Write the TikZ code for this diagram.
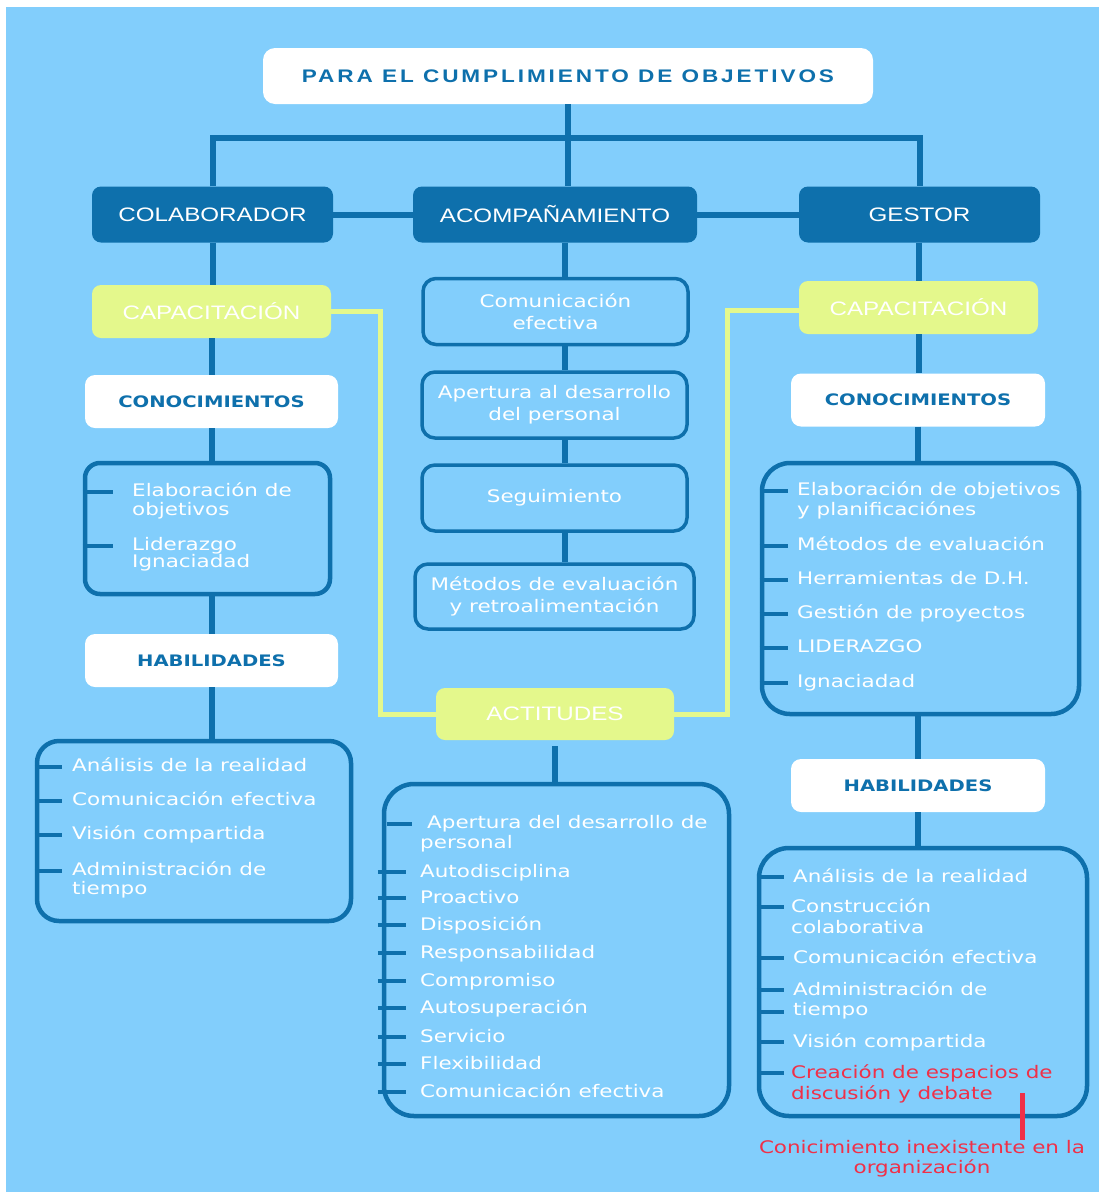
\documentclass[tikz,border=0pt]{standalone}
\usepackage{fontspec}
\usetikzlibrary{calc}
\newfontfamily\itemfont[FakeStretch=1.24]{DejaVu Sans}
\newfontfamily\boxfont[FakeStretch=1.24]{Liberation Sans}
\newfontfamily\titlefont[FakeStretch=1.24,LetterSpace=16]{Liberation Sans}
\newcommand{\twolines}[3][0pt]{\vtop{\hbox{#2}\vskip#1\hbox{#3}}}
\definecolor{skyblue}{RGB}{130,206,252}
\definecolor{darkblue}{RGB}{14,112,172}
\definecolor{limegreen}{RGB}{228,248,140}
\definecolor{alertred}{RGB}{240,48,72}
\tikzset{
  rolebox/.style={rectangle, rounded corners=9pt, fill=darkblue, text=white, minimum height=56pt, font=\boxfont\fontsize{19.5}{22}\selectfont},
  greenbox/.style={rectangle, rounded corners=9pt, fill=limegreen, text=white, minimum width=239pt, minimum height=53pt, font=\boxfont\fontsize{19.5}{22}\selectfont},
  headbox/.style={rectangle, rounded corners=10pt, fill=white, text=darkblue, minimum width=253pt, minimum height=53pt, font=\itemfont\bfseries\fontsize{15.8}{18}\selectfont},
  midbox/.style={rectangle, rounded corners=13pt, draw=darkblue, line width=3.5pt, text=white, align=center, minimum width=265pt, minimum height=66pt, font=\itemfont\fontsize{17.3}{22}\selectfont},
  listbox/.style={rectangle, draw=darkblue, line width=4.5pt},
  item/.style={anchor=base west, inner sep=0pt, text=white, font=\itemfont\fontsize{17.3}{21}\selectfont},
  link/.style={draw=darkblue, line width=6pt},
  glink/.style={draw=limegreen, line width=5pt},
  tick/.style={draw=darkblue, line width=4pt},
  redline/.style={draw=alertred, line width=5pt}
}
\begin{document}
\begin{tikzpicture}[x=1pt,y=-1pt]
\useasboundingbox (0,0) rectangle (1099,1192);
\fill[white] (0,0) rectangle (1099,1192);
\fill[skyblue] (6,7) rectangle (1099,1192);

\node[headbox, rounded corners=12pt, minimum width=610pt, minimum height=56pt, font=\titlefont\bfseries\fontsize{18.2}{22}\selectfont] (title) at (568,76) {PARA EL CUMPLIMIENTO DE OBJETIVOS};

\node[rolebox, minimum width=241pt] (colab) at (212.5,214.5) {COLABORADOR};
\node[rolebox, minimum width=284pt] (acomp) at (555,214.5) {ACOMPAÑAMIENTO};
\node[rolebox, minimum width=241pt] (gestor) at (919.5,214.5) {GESTOR};

\node[greenbox] (cap-left) at (211.5,311.5) {CAPACITACIÓN};
\node[greenbox] (cap-right) at (918.5,307.5) {CAPACITACIÓN};
\node[greenbox, minimum width=238pt, minimum height=52pt] (actit) at (555,714) {ACTITUDES};

\node[headbox] (con-left) at (211.5,401.5) {CONOCIMIENTOS};
\node[headbox, minimum width=254pt] (con-right) at (918,400) {CONOCIMIENTOS};
\node[headbox] (hab-left) at (211.5,660.5) {HABILIDADES};
\node[headbox, minimum width=254pt] (hab-right) at (918,785.5) {HABILIDADES};

\node[midbox] (acomp1) at (555.5,311.5) {Comunicación\\efectiva};
\node[midbox] (acomp2) at (554.5,405) {Apertura al desarrollo\\del personal};
\node[midbox] (acomp3) at (554.5,498) {Seguimiento};
\node[midbox, minimum width=279pt, minimum height=65pt] (acomp4) at (554.5,596.5) {Métodos de evaluación\\y retroalimentación};

\node[listbox, rounded corners=15pt, minimum width=245pt, minimum height=131pt] (know-left) at (207.5,528.5) {};
\node[listbox, rounded corners=22pt, minimum width=314pt, minimum height=180pt] (skill-left) at (194,831) {};
\node[listbox, rounded corners=28pt, minimum width=317pt, minimum height=251pt] (know-right) at (920.5,588.5) {};
\node[listbox, rounded corners=30pt, minimum width=328pt, minimum height=268pt] (skill-right) at (923,982) {};
\node[listbox, rounded corners=30pt, minimum width=345pt, minimum height=332pt] (attit) at (556.5,950) {};

\node[item] (kl1) at (132,496) {\twolines[-2pt]{Elaboración de}{objetivos}};
\node[item] (kl2) at (132,550) {\twolines[-4pt]{Liderazgo}{Ignaciadad}};

\node[item] (sl1) at (72,771) {Análisis de la realidad};
\node[item] (sl2) at (72,805) {Comunicación efectiva};
\node[item] (sl3) at (72,839) {Visión compartida};
\node[item] (sl4) at (72,875) {\twolines[-2pt]{Administración de}{tiempo}};

\node[item] (kr1) at (797,495) {\twolines[-1pt]{Elaboración de objetivos}{y planificaciónes}};
\node[item] (kr2) at (797,550) {Métodos de evaluación};
\node[item] (kr3) at (797,584) {Herramientas de D.H.};
\node[item] (kr4) at (797,618) {Gestión de proyectos};
\node[item] (kr5) at (797,652) {LIDERAZGO};
\node[item] (kr6) at (797,687) {Ignaciadad};

\node[item] (at1) at (420,828) {\twolines[-1pt]{\hspace*{7pt}Apertura del desarrollo de}{personal}};
\node[item] (at2) at (420,877) {Autodisciplina};
\node[item] (at3) at (420,903) {Proactivo};
\node[item] (at4) at (420,930) {Disposición};
\node[item] (at5) at (420,958) {Responsabilidad};
\node[item] (at6) at (420,986) {Compromiso};
\node[item] (at7) at (420,1013) {Autosuperación};
\node[item] (at8) at (420,1042) {Servicio};
\node[item] (at9) at (420,1069) {Flexibilidad};
\node[item] (at10) at (420,1097) {Comunicación efectiva};

\node[item] (sr1) at (793,882) {Análisis de la realidad};
\node[item] (sr2) at (791,912) {\twolines{Construcción}{colaborativa}};
\node[item] (sr3) at (793,963) {Comunicación efectiva};
\node[item] (sr4) at (793,995) {\twolines[-1pt]{Administración de}{tiempo}};
\node[item] (sr5) at (793,1047) {Visión compartida};
\node[item, text=alertred] (sr6) at (791,1078) {\twolines{Creación de espacios de}{discusión y debate}};

\node[anchor=base, inner sep=0pt, align=center, text=alertred, font=\itemfont\fontsize{17.3}{20}\selectfont] (note) at (922,1173) {Conicimiento inexistente en la\\organización};

\coordinate (bar) at (570,138);
\coordinate (spine) at (565,0);
\draw[link] (title.south) -- (title.south |- acomp.north);
\draw[link] (colab.north) |- (bar) -| (gestor.north);
\draw[link] (colab.east) -- (acomp.west);
\draw[link] (acomp.east) -- (gestor.west);

\draw[link] (colab.south) -- (colab.south |- cap-left.north);
\draw[link] (cap-left.south) -- (cap-left.south |- con-left.north);
\draw[link] (con-left.south) -- (con-left.south |- know-left.north);
\draw[link] (con-left.south |- know-left.south) -- (hab-left.north);
\draw[link] (hab-left.south) -- (hab-left.south |- skill-left.north);

\draw[link] (spine |- acomp.south) -- (spine |- acomp1.north);
\draw[link] (spine |- acomp1.south) -- (spine |- acomp2.north);
\draw[link] (spine |- acomp2.south) -- (spine |- acomp3.north);
\draw[link] (spine |- acomp3.south) -- (spine |- acomp4.north);
\draw[link] ([yshift=-6pt]actit.south) -- (actit.south |- attit.north);

\draw[link] (cap-right.north |- gestor.south) -- (cap-right.north);
\draw[link] (cap-right.south) -- (cap-right.south |- con-right.north);
\draw[link] (con-right.south) -- (con-right.south |- know-right.north);
\draw[link] (con-right.south |- know-right.south) -- (hab-right.north);
\draw[link] (hab-right.south) -- (hab-right.south |- skill-right.north);

\coordinate (green-left) at (380,0);
\coordinate (green-right) at (727,0);
\draw[glink] (cap-left.east) -| (green-left |- actit.west) -- (actit.west);
\draw[glink] ([yshift=-3pt]cap-right.west) -| (green-right |- actit.east) -- (actit.east);

\foreach \n in {kl1,kl2}
  \draw[tick] ($(know-left.west |- \n.base)+(0,-4)$) -- ++(30,0);
\foreach \n in {sl1,sl2,sl3,sl4}
  \draw[tick] ($(skill-left.west |- \n.base)+(0,-4)$) -- ++(27,0);
\foreach \n in {kr1,kr2,kr3,kr4,kr5,kr6}
  \draw[tick] ($(know-right.west |- \n.base)+(0,-4)$) -- ++(28,0);
\draw[tick] ($(attit.west |- at1.base)+(5,-4)$) -- ++(25,0);
\foreach \n in {at2,at3,at4,at5,at6,at7,at8,at9,at10}
  \draw[tick] ($(attit.west |- \n.base)+(-4,-5)$) -- ++(28,0);
\foreach \n in {sr1,sr2,sr3,sr4,sr5,sr6}
  \draw[tick] ($(skill-right.west |- \n.base)+(0,-5)$) -- ++(27,0);
\draw[tick] ($(skill-right.west |- sr4.base)+(0,17)$) -- ++(27,0);

\coordinate (red-top) at (1022,1093);
\draw[redline] (red-top) -- (red-top |- note.north);
\end{tikzpicture}
\end{document}
